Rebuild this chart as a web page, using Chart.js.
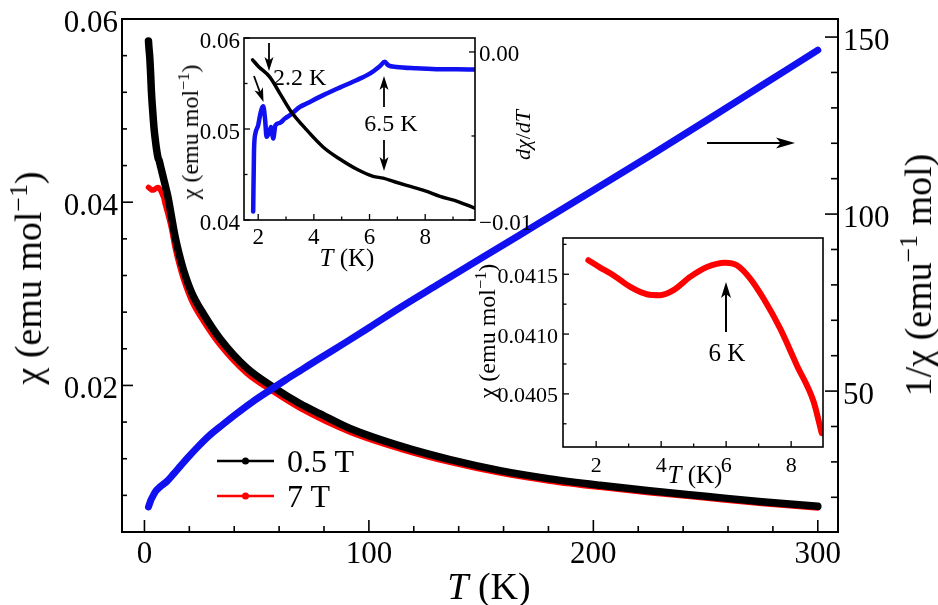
<!DOCTYPE html>
<html>
<head>
<meta charset="utf-8">
<script src="https://cdn.jsdelivr.net/npm/chart.js@4.4.0/dist/chart.umd.min.js"></script>
<style>
  html, body { margin: 0; padding: 0; background: #fff; }
  #wrap { position: relative; width: 938px; height: 605px; overflow: hidden; font-family: 'Liberation Serif'; }
  canvas { position: absolute; }
  .lbl { position: absolute; line-height: 1; white-space: nowrap; color: #000; font-family: 'Liberation Serif'; transform: translate(-50%, -50%); }
  .lbl.rot { transform: translate(-50%, -50%) rotate(-90deg); }
  .lbl.left { transform: translate(0, -50%); }
  .lbl.rt { transform: translate(-100%, -50%); }
  .lbl span { font-family: 'Liberation Serif'; }
  .lbl .sup { font-size: 68%; position: relative; top: -0.55em; }
</style>
</head>
<body>
<div id="wrap">
  <canvas id="main" width="938" height="605" style="left:0;top:0"></canvas>
  <canvas id="ins1" width="365" height="245" style="left:175px;top:25px"></canvas>
  <canvas id="ins2" width="355" height="255" style="left:475px;top:230px"></canvas>

  <!-- main axis titles -->
  <div class="lbl" style="left:489px;top:586px;font-size:38px"><i>T</i> (K)</div>
  <div class="lbl rot" style="left:28px;top:278px;font-size:38px"><span>χ</span><span> (emu mol</span><span class="sup">−1</span><span>)</span></div>
  <div class="lbl rot" style="left:918px;top:275px;font-size:38px"><span>1/</span><span>χ</span><span> (emu</span><span class="sup">−1</span><span> mol)</span></div>
  <!-- legend labels -->
  <div class="lbl left" style="left:287px;top:461px;font-size:32px">0.5 T</div>
  <div class="lbl left" style="left:287px;top:496px;font-size:32px">7 T</div>
  <!-- upper inset -->
  <div class="lbl rot" style="left:190px;top:132px;font-size:24px"><span>χ</span><span> (emu mol</span><span class="sup">−1</span><span>)</span></div>
  <div class="lbl" style="left:347px;top:257px;font-size:25px"><i>T</i> (K)</div>
  <div class="lbl rot" style="left:523px;top:135px;font-size:22px"><i>d</i><i>χ</i>/<i>dT</i></div>
  <div class="lbl left" style="left:273px;top:77px;font-size:24px">2.2 K</div>
  <div class="lbl" style="left:391px;top:123px;font-size:24px">6.5 K</div>
  <!-- lower inset -->
  <div class="lbl rot" style="left:487px;top:331px;font-size:24px"><span>χ</span><span> (emu mol</span><span class="sup">−1</span><span>)</span></div>
  <div class="lbl" style="left:695px;top:474px;font-size:25px"><i>T</i> (K)</div>
  <div class="lbl" style="left:727px;top:352px;font-size:25px">6 K</div>
</div>
<script>
// ===== Data =====

// main panel: chi at 0.5 T (black)
const T_05 = [1.8, 2.0, 2.4, 2.8, 3.1, 3.7, 4.3, 4.9, 5.5, 6.1, 6.5, 7.3, 8.5, 9.8, 10.7, 12, 13.7, 15.5, 17.4, 21.1, 26.3, 33.7, 45.6, 57.5, 69.4, 78.3, 91.6, 113.9, 136.2, 158.5, 180.7, 203, 225, 250, 275, 300];
const CHI_05 = [0.0576, 0.0569, 0.0557, 0.0538, 0.0521, 0.0499, 0.0480, 0.0467, 0.0456, 0.0448, 0.0446, 0.0438, 0.0426, 0.0413, 0.0403, 0.0385, 0.0362, 0.0343, 0.0326, 0.0301, 0.0278, 0.0251, 0.0219, 0.0198, 0.0180, 0.0169, 0.0153, 0.0134, 0.0119, 0.0107, 0.0098, 0.0091, 0.0085, 0.0079, 0.0073, 0.0068];

// main panel: chi at 7 T (red)
const T_7 = [1.8, 2.5, 3.0, 3.5, 4.0, 4.4, 4.9, 5.4, 6.0, 6.3, 6.7, 7.2, 7.7, 8.2, 8.7, 8.9, 10.5, 12, 13.7, 15.5, 17.4, 21.1, 26.3, 33.7, 45.6, 57.5, 69.4, 91.6, 113.9, 136.2, 158.5, 180.7, 203, 225, 250, 275, 300];
const CHI_7 = [0.04162, 0.04149, 0.04139, 0.04133, 0.04133, 0.04137, 0.04148, 0.04156, 0.04160, 0.04158, 0.04146, 0.04129, 0.04105, 0.04074, 0.04044, 0.04017, 0.0387, 0.0372, 0.0350, 0.0332, 0.0316, 0.0292, 0.0270, 0.0244, 0.0213, 0.0193, 0.0175, 0.0149, 0.01306, 0.0116, 0.01043, 0.00955, 0.00887, 0.00829, 0.0077, 0.00712, 0.00663];

// main panel: 1/chi (blue, right axis)
const T_INV = [1.8, 2.3, 3.0, 4.0, 5.0, 6.5, 8.0, 10, 13, 16, 19, 24, 29, 35, 41, 48, 56, 63, 70, 78, 90, 100, 114, 130, 150, 175, 200, 225, 250, 275, 300];
const INV_CHI = [17.3, 18.2, 19.4, 20.6, 21.7, 22.7, 23.5, 24.5, 26.6, 28.8, 31.0, 34.4, 37.5, 40.6, 43.6, 46.9, 50.3, 53.2, 56.0, 59.2, 63.9, 67.9, 73.6, 79.8, 87.5, 97.1, 106.7, 116.4, 126.3, 136.3, 146.3];

// upper inset: chi (black) and dchi/dT (blue)
const T_IN1 = [1.8, 2.0, 2.42, 2.8, 3.14, 3.74, 4.34, 4.93, 5.53, 6.13, 6.49, 6.9, 7.33, 8.0, 8.53, 9.2, 9.78];
const CHI_IN1 = [0.0576, 0.0569, 0.0557, 0.0538, 0.0521, 0.0499, 0.0480, 0.0467, 0.0456, 0.0448, 0.0446, 0.0442, 0.0438, 0.0432, 0.0426, 0.0420, 0.0413];
const T_DER = [1.82, 1.85, 1.9, 2.0, 2.08, 2.18, 2.25, 2.3, 2.4, 2.46, 2.54, 2.62, 2.78, 2.96, 3.14, 3.5, 3.74, 4.34, 4.93, 5.53, 6.01, 6.37, 6.55, 6.67, 6.97, 7.69, 8.53, 9.13, 9.78];
const DCHI_DT = [-0.0095, -0.00584, -0.00485, -0.00436, -0.00366, -0.00323, -0.00406, -0.00505, -0.00475, -0.00446, -0.00515, -0.00436, -0.00422, -0.00396, -0.00376, -0.00327, -0.00307, -0.00257, -0.00212, -0.00168, -0.00129, -0.00085, -0.00059, -0.00079, -0.00089, -0.00097, -0.00103, -0.00103, -0.00105];

// lower inset: chi at 7 T (red)
const T_IN2 = [1.76, 2.1, 2.53, 3.05, 3.56, 3.97, 4.38, 4.89, 5.41, 5.97, 6.33, 6.74, 7.15, 7.66, 8.17, 8.69, 8.94];
const CHI_IN2 = [0.041617, 0.041560, 0.041492, 0.041394, 0.041333, 0.041325, 0.041367, 0.041478, 0.041561, 0.041597, 0.041575, 0.041464, 0.041297, 0.041047, 0.040742, 0.040436, 0.040172];

// tick values
const MAIN_X_TICKS = [0, 100, 200, 300];
const MAIN_Y_TICKS = [0.02, 0.04, 0.06];
const MAIN_Y2_TICKS = [50, 100, 150];
const IN1_X_TICKS = [2, 4, 6, 8];
const IN1_Y_TICKS = [0.04, 0.05, 0.06];
const IN1_Y2_TICKS = [-0.01, 0.00];
const IN2_X_TICKS = [2, 4, 6, 8];
const IN2_Y_TICKS = [0.0405, 0.0410, 0.0415];

function pts(xs, ys) {
  return xs.map((x, i) => ({ x, y: ys[i] }));
}

function steps(from, to, step, skip) {
  const out = [];
  for (let v = from; v <= to + 1e-9; v += step) {
    const r = Math.round(v * 1e6) / 1e6;
    if (!skip.some(s => Math.abs(s - r) < 1e-9)) out.push(r);
  }
  return out;
}

function drawArrow(ctx, a) {
  const ang = Math.atan2(a.y2 - a.y1, a.x2 - a.x1);
  const c = Math.cos(ang), s = Math.sin(ang);
  const hl = a.hl, hw = a.hw;
  ctx.lineWidth = a.lw;
  ctx.beginPath();
  ctx.moveTo(a.x1, a.y1);
  ctx.lineTo(a.x2 - hl * 0.7 * c, a.y2 - hl * 0.7 * s);
  ctx.stroke();
  ctx.beginPath();
  ctx.moveTo(a.x2, a.y2);
  ctx.lineTo(a.x2 - hl * c - hw * s, a.y2 - hl * s + hw * c);
  ctx.lineTo(a.x2 - hl * 0.75 * c, a.y2 - hl * 0.75 * s);
  ctx.lineTo(a.x2 - hl * c + hw * s, a.y2 - hl * s - hw * c);
  ctx.closePath();
  ctx.fill();
}

// frame, inward tick marks, arrows and legend keys
const decor = {
  id: 'decor',
  afterDraw(chart, args, o) {
    const { ctx, chartArea: a } = chart;
    ctx.save();
    ctx.strokeStyle = '#000';
    ctx.fillStyle = '#000';
    ctx.lineWidth = o.frameWidth;
    ctx.strokeRect(a.left, a.top, a.right - a.left, a.bottom - a.top);
    ctx.lineWidth = o.tickWidth;
    (o.axes || []).forEach(ax => {
      const sc = chart.scales[ax.id];
      const mark = (v, len) => {
        const p = sc.getPixelForValue(v);
        ctx.beginPath();
        if (ax.side === 'bottom') { ctx.moveTo(p, a.bottom); ctx.lineTo(p, a.bottom - len); }
        else if (ax.side === 'left') { ctx.moveTo(a.left, p); ctx.lineTo(a.left + len, p); }
        else { ctx.moveTo(a.right, p); ctx.lineTo(a.right - len, p); }
        ctx.stroke();
      };
      ax.major.forEach(v => mark(v, ax.majorLen));
      ax.minor.forEach(v => mark(v, ax.minorLen));
    });
    ctx.translate(-o.offX, -o.offY);
    (o.arrows || []).forEach(ar => drawArrow(ctx, ar));
    (o.legend || []).forEach(l => {
      ctx.strokeStyle = l.color;
      ctx.fillStyle = l.color;
      ctx.lineWidth = 2.5;
      ctx.beginPath();
      ctx.moveTo(l.x1, l.y);
      ctx.lineTo(l.x2, l.y);
      ctx.stroke();
      ctx.beginPath();
      ctx.arc((l.x1 + l.x2) / 2, l.y, 3.5, 0, Math.PI * 2);
      ctx.fill();
    });
    ctx.restore();
  }
};

// tick labels as html text, placed from the chart's own scales
const htmlTicks = {
  id: 'htmlTicks',
  afterDraw(chart, args, o) {
    const wrap = document.getElementById('wrap');
    const a = chart.chartArea;
    const id = chart.canvas.id;
    wrap.querySelectorAll('[data-chart="' + id + '"]').forEach(n => n.remove());
    (o.axes || []).forEach(ax => {
      const sc = chart.scales[ax.id];
      sc.ticks.forEach(t => {
        const p = sc.getPixelForValue(t.value);
        const d = document.createElement('div');
        d.dataset.chart = id;
        d.textContent = ax.fmt(t.value);
        d.style.fontSize = ax.size + 'px';
        let x, y;
        if (ax.side === 'bottom') { d.className = 'lbl'; x = p; y = a.bottom + ax.pad; }
        else if (ax.side === 'left') { d.className = 'lbl rt'; x = a.left - ax.pad; y = p + ax.dy; }
        else { d.className = 'lbl left'; x = a.right + ax.pad; y = p + ax.dy; }
        d.style.left = (o.offX + x) + 'px';
        d.style.top = (o.offY + y) + 'px';
        wrap.appendChild(d);
      });
    });
  }
};

function fixed(size) {
  return s => {
    if (s.isHorizontal()) s.height = size; else s.width = size;
  };
}

function setTicks(values) {
  return s => { s.ticks = values.map(v => ({ value: v })); };
}

function axis(opts) {
  return Object.assign({
    type: 'linear',
    grid: { display: false, drawTicks: false },
    border: { display: false },
    ticks: { display: false }
  }, opts);
}

const LINE = { cubicInterpolationMode: 'monotone', borderCapStyle: 'round', borderJoinStyle: 'round' };
const fix2 = v => v.toFixed(2);

// ===== Main chart =====
new Chart(document.getElementById('main'), {
  type: 'line',
  data: {
    datasets: [
      { data: pts(T_INV, INV_CHI), yAxisID: 'y2', borderColor: '#1010f0', borderWidth: 7 },
      { data: pts(T_05, CHI_05), yAxisID: 'y', borderColor: '#000000', borderWidth: 7.5 },
      { data: pts(T_7, CHI_7), yAxisID: 'y', borderColor: '#ff0000', borderWidth: 5.5 }
    ]
  },
  options: {
    responsive: false,
    animation: false,
    parsing: false,
    layout: { padding: { top: 19, left: 0, right: 0, bottom: 0 } },
    elements: { point: { radius: 0 }, line: LINE },
    plugins: {
      legend: { display: false },
      tooltip: { enabled: false },
      decor: {
        offX: 0, offY: 0, frameWidth: 2, tickWidth: 1.6,
        axes: [
          { id: 'x', side: 'bottom', major: MAIN_X_TICKS, minor: steps(20, 300, 20, MAIN_X_TICKS), majorLen: 12, minorLen: 6 },
          { id: 'y', side: 'left', major: MAIN_Y_TICKS, minor: steps(0.008, 0.056, 0.004, MAIN_Y_TICKS), majorLen: 11, minorLen: 5 },
          { id: 'y2', side: 'right', major: MAIN_Y2_TICKS, minor: steps(20, 150, 10, MAIN_Y2_TICKS), majorLen: 13, minorLen: 7 }
        ],
        arrows: [
          { x1: 707, y1: 143, x2: 795, y2: 143, hl: 19, hw: 5.5, lw: 2 },
          { x1: 269, y1: 43, x2: 269, y2: 71, hl: 14, hw: 4.5, lw: 1.8 },
          { x1: 254, y1: 76, x2: 263.5, y2: 102, hl: 14, hw: 4.5, lw: 1.8 },
          { x1: 384, y1: 107, x2: 384, y2: 76, hl: 14, hw: 4.5, lw: 1.8 },
          { x1: 384, y1: 140, x2: 384, y2: 171, hl: 14, hw: 4.5, lw: 1.8 },
          { x1: 726, y1: 332, x2: 726, y2: 282, hl: 16, hw: 5, lw: 2 }
        ],
        legend: [
          { x1: 217, x2: 274, y: 461, color: '#000000' },
          { x1: 217, x2: 274, y: 496, color: '#ff0000' }
        ]
      },
      htmlTicks: {
        offX: 0, offY: 0,
        axes: [
          { id: 'x', side: 'bottom', size: 31, pad: 20, fmt: v => String(v) },
          { id: 'y', side: 'left', size: 31, pad: 4, dy: 2, fmt: fix2 },
          { id: 'y2', side: 'right', size: 31, pad: 5, dy: 2, fmt: v => String(v) }
        ]
      }
    },
    scales: {
      x: axis({ position: 'bottom', min: -10, max: 309, afterFit: fixed(73), afterBuildTicks: setTicks(MAIN_X_TICKS) }),
      y: axis({ position: 'left', min: 0.004, max: 0.06, afterFit: fixed(122), afterBuildTicks: setTicks(MAIN_Y_TICKS) }),
      y2: axis({ position: 'right', min: 10.2, max: 155.1, afterFit: fixed(100), afterBuildTicks: setTicks(MAIN_Y2_TICKS) })
    }
  },
  plugins: [decor, htmlTicks]
});

// ===== Upper inset =====
new Chart(document.getElementById('ins1'), {
  type: 'line',
  data: {
    datasets: [
      { data: pts(T_IN1, CHI_IN1), yAxisID: 'y', borderColor: '#000000', borderWidth: 3.5 },
      { data: pts(T_DER, DCHI_DT), yAxisID: 'y2', borderColor: '#1010f0', borderWidth: 4.5 }
    ]
  },
  options: {
    responsive: false,
    animation: false,
    parsing: false,
    layout: { padding: { top: 13, left: 0, right: 0, bottom: 0 } },
    elements: { point: { radius: 0 }, line: LINE },
    plugins: {
      legend: { display: false },
      tooltip: { enabled: false },
      decor: {
        offX: 175, offY: 25, frameWidth: 1.6, tickWidth: 1.3,
        axes: [
          { id: 'x', side: 'bottom', major: IN1_X_TICKS, minor: [3, 5, 7, 9], majorLen: 6, minorLen: 3.5 },
          { id: 'y', side: 'left', major: IN1_Y_TICKS, minor: [0.045, 0.055], majorLen: 6, minorLen: 3.5 },
          { id: 'y2', side: 'right', major: IN1_Y2_TICKS, minor: [-0.005], majorLen: 6, minorLen: 3.5 }
        ]
      },
      htmlTicks: {
        offX: 175, offY: 25,
        axes: [
          { id: 'x', side: 'bottom', size: 23, pad: 16, fmt: v => String(v) },
          { id: 'y', side: 'left', size: 23, pad: 4, dy: 1.5, fmt: fix2 },
          { id: 'y2', side: 'right', size: 23, pad: 4, dy: 1.5, fmt: v => (v < 0 ? '−' : '') + Math.abs(v).toFixed(2) }
        ]
      }
    },
    scales: {
      x: axis({ position: 'bottom', min: 1.49, max: 9.79, afterFit: fixed(50), afterBuildTicks: setTicks(IN1_X_TICKS) }),
      y: axis({ position: 'left', min: 0.04, max: 0.06, afterFit: fixed(69), afterBuildTicks: setTicks(IN1_Y_TICKS) }),
      y2: axis({ position: 'right', min: -0.01, max: 0.00083, afterFit: fixed(65), afterBuildTicks: setTicks(IN1_Y2_TICKS) })
    }
  },
  plugins: [decor, htmlTicks]
});

// ===== Lower inset =====
new Chart(document.getElementById('ins2'), {
  type: 'line',
  data: {
    datasets: [
      { data: pts(T_IN2, CHI_IN2), borderColor: '#ff0000', borderWidth: 6 }
    ]
  },
  options: {
    responsive: false,
    animation: false,
    parsing: false,
    layout: { padding: { top: 8, left: 0, right: 7, bottom: 0 } },
    elements: { point: { radius: 0 }, line: LINE },
    plugins: {
      legend: { display: false },
      tooltip: { enabled: false },
      decor: {
        offX: 475, offY: 230, frameWidth: 1.6, tickWidth: 1.3,
        axes: [
          { id: 'x', side: 'bottom', major: IN2_X_TICKS, minor: [3, 5, 7], majorLen: 6, minorLen: 3.5 },
          { id: 'y', side: 'left', major: IN2_Y_TICKS, minor: [0.04025, 0.04075, 0.04125, 0.04175], majorLen: 6, minorLen: 3.5 }
        ]
      },
      htmlTicks: {
        offX: 475, offY: 230,
        axes: [
          { id: 'x', side: 'bottom', size: 22, pad: 18, fmt: v => String(v) },
          { id: 'y', side: 'left', size: 22, pad: 5, dy: 1.5, fmt: v => v.toFixed(4) }
        ]
      }
    },
    scales: {
      x: axis({ position: 'bottom', min: 0.98, max: 8.98, afterFit: fixed(38), afterBuildTicks: setTicks(IN2_X_TICKS) }),
      y: axis({ position: 'left', min: 0.040056, max: 0.041803, afterFit: fixed(88), afterBuildTicks: setTicks(IN2_Y_TICKS) })
    }
  },
  plugins: [decor, htmlTicks]
});
</script>
</body>
</html>
